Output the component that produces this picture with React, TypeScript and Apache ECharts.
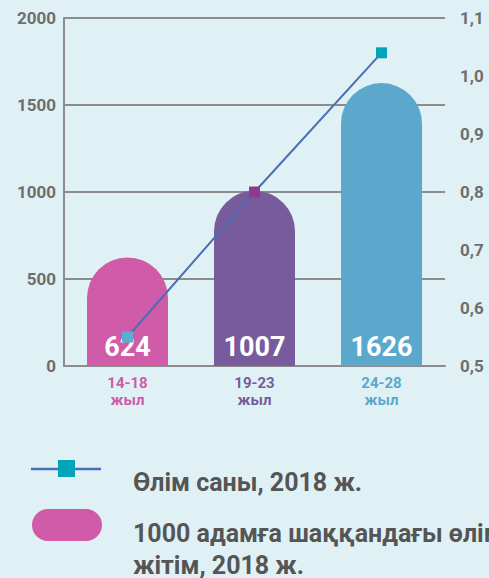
import React, { useEffect, useRef } from "react";
import * as echarts from "echarts";

const categories = ["14-18\nжыл", "19-23\nжыл", "24-28\nжыл"];
const barValues = [624, 1007, 1626];
const lineValues = [0.55, 0.8, 1.04];
const catColors = ["#d05ba8", "#775b9c", "#5ba8cc"];
const markerColors = ["#5aaed0", "#8e3a8e", "#00a5ba"];
const legendLabels = ["Өлім саны, 2018 ж.", "1000 адамға шаққандағы өлім-\nжітім, 2018 ж."];

const FONT = "Roboto, 'Noto Sans', sans-serif";
const GRAY = "#8c8c8c";
const LABEL = "#6e6e6e";

export default function App() {
  const ref = useRef<HTMLDivElement>(null);
  useEffect(() => {
    if (!ref.current) return;
    const chart = echarts.init(ref.current, null, { renderer: "svg" });
    chart.setOption({
      animation: false,
      backgroundColor: "#e0f1f6",
      grid: { left: 64, right: 44, top: 18, bottom: 212, containLabel: false },
      xAxis: {
        type: "category",
        data: categories,
        axisLine: { lineStyle: { color: GRAY, width: 2 } },
        axisTick: { show: false },
        axisLabel: {
          margin: 8,
          fontFamily: FONT,
          fontWeight: "bold",
          fontSize: 15,
          lineHeight: 17,
          color: (_v: any, i: number) => catColors[i],
        },
      },
      yAxis: [
        {
          type: "value",
          min: 0,
          max: 2000,
          interval: 500,
          axisLine: { show: true, lineStyle: { color: GRAY, width: 2 } },
          axisTick: { show: false },
          splitLine: { lineStyle: { color: GRAY, width: 2 } },
          axisLabel: {
            fontFamily: FONT,
            fontWeight: "bold",
            fontSize: 17,
            color: LABEL,
            margin: 8,
            formatter: (v: number) => String(v),
          },
        },
        {
          type: "value",
          min: 0.5,
          max: 1.1,
          interval: 0.1,
          axisLine: { show: false },
          axisTick: { show: false },
          splitLine: { show: false },
          axisLabel: {
            fontFamily: FONT,
            fontWeight: "bold",
            fontSize: 17,
            color: LABEL,
            margin: 15,
            formatter: (v: number) => (Math.round(v * 10) / 10).toFixed(1).replace(".", ","),
          },
        },
      ],
      series: [
        {
          type: "bar",
          data: barValues.map((v, i) => ({ value: v, itemStyle: { color: catColors[i] } })),
          barWidth: 81,
          itemStyle: { borderRadius: [40.5, 40.5, 0, 0] },
          label: {
            show: true,
            position: "insideBottom",
            distance: 6,
            color: "#ffffff",
            fontFamily: FONT,
            fontWeight: "bold",
            fontSize: 27,
          },
          z: 2,
        },
        {
          type: "line",
          yAxisIndex: 1,
          data: lineValues.map((v, i) => ({ value: v, itemStyle: { color: markerColors[i] } })),
          symbol: "rect",
          symbolSize: 11,
          lineStyle: { color: "#4a6db5", width: 2 },
          z: 3,
        },
      ],
      graphic: [
        { type: "line", shape: { x1: 31, y1: 469, x2: 101, y2: 469 }, style: { stroke: "#4a6db5", lineWidth: 2.5 } },
        { type: "rect", shape: { x: 58, y: 460, width: 17, height: 17 }, style: { fill: "#00a5ba" } },
        {
          type: "text",
          x: 133,
          y: 482,
          style: {
            text: legendLabels[0],
            fill: "#555555",
            font: `bold 25px ${FONT}`,
            verticalAlign: "middle",
          },
        },
        { type: "rect", shape: { x: 32, y: 509, width: 70, height: 32, r: 16 }, style: { fill: "#d05ba8" } },
        {
          type: "text",
          x: 133,
          y: 517,
          style: { text: legendLabels[1], fill: "#555555", font: `bold 25px ${FONT}`, lineHeight: 32 },
        },
      ],
    });
    return () => chart.dispose();
  }, []);
  return (
    <div
      ref={ref}
      style={{ position: "fixed", left: 0, top: 0, width: 489, height: 578 }}
    />
  );
}
